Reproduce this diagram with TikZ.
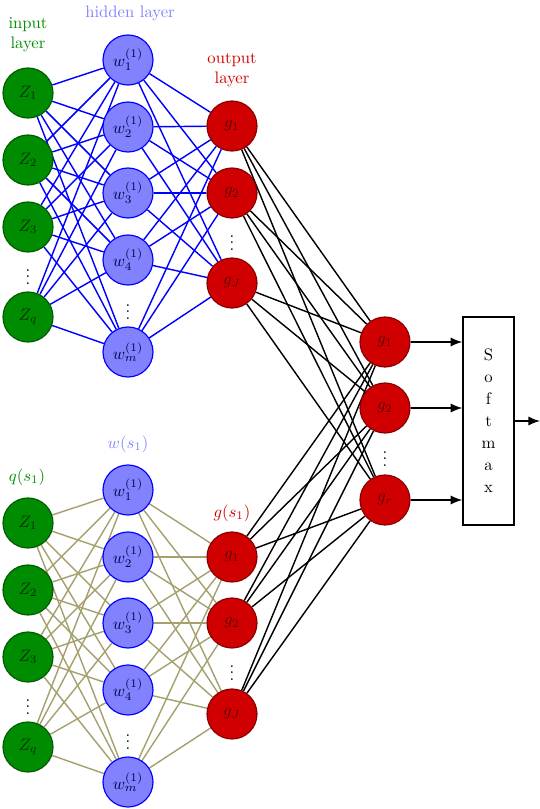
\documentclass[tikz,border=0pt]{standalone}
\usetikzlibrary{arrows.meta, backgrounds}
\definecolor{ingreen}{RGB}{0,140,0}
\definecolor{hidblue}{RGB}{130,130,255}
\definecolor{outred}{RGB}{208,0,0}
\definecolor{olivegray}{RGB}{165,160,110}
\tikzset{
  neuron/.style={circle, minimum size=30pt, inner sep=0pt, line width=0.7pt},
  innode/.style={neuron, fill=ingreen, draw=ingreen!65!black, text=ingreen!35!black},
  hidnode/.style={neuron, fill=hidblue, draw=blue, text=blue!25!black},
  outnode/.style={neuron, fill=outred, draw=outred!65!black, text=outred!45!black},
  vdots/.style={inner sep=0pt},
  blueedge/.style={blue, line width=0.85pt},
  oliveedge/.style={olivegray, line width=0.85pt},
  blackedge/.style={black, line width=0.85pt},
  arrowline/.style={line width=0.85pt, -{Latex[length=7pt,width=5.5pt]}}
}
\begin{document}
\begin{tikzpicture}[x=0.6pt, y=-0.6pt]
  \useasboundingbox (0,0) rectangle (540,809);

  % Top network
  \node[ingreen, align=center] (lblin) at (28,35) {input\\layer};
  \node[hidblue] (lblhid) at (130,13) {hidden layer};
  \node[outred, align=center] (lblout) at (232,70) {output\\layer};
  \foreach \y/\lab [count=\i] in {93/Z_1,160/Z_2,227/Z_3,317/Z_q}
    \node[innode] (zA\i) at (28,\y) {$\lab$};
  \node[vdots] (zAdots) at (28,272) {$\vdots$};
  \foreach \y/\lab [count=\i] in {60/1,127/2,193/3,260/4,352/m}
    \node[hidnode] (wA\i) at (128,\y) {$w_{\lab}^{(1)}$};
  \node[vdots] (wAdots) at (128,307) {$\vdots$};
  \foreach \y/\lab [count=\i] in {126/1,193/2,283/J}
    \node[outnode] (gA\i) at (232,\y) {$g_{\lab}$};
  \node[vdots] (gAdots) at (232,238) {$\vdots$};

  % Bottom network
  \node[ingreen] (lblq) at (27,477) {$q(s_1)$};
  \node[hidblue] (lblw) at (128,444) {$w(s_1)$};
  \node[outred] (lblg) at (232,513) {$g(s_1)$};
  \foreach \y/\lab [count=\i] in {523/Z_1,590/Z_2,657/Z_3,747/Z_q}
    \node[innode] (zB\i) at (28,\y) {$\lab$};
  \node[vdots] (zBdots) at (28,702) {$\vdots$};
  \foreach \y/\lab [count=\i] in {490/1,557/2,623/3,690/4,782/m}
    \node[hidnode] (wB\i) at (128,\y) {$w_{\lab}^{(1)}$};
  \node[vdots] (wBdots) at (128,737) {$\vdots$};
  \foreach \y/\lab [count=\i] in {557/1,623/2,714/J}
    \node[outnode] (gB\i) at (232,\y) {$g_{\lab}$};
  \node[vdots] (gBdots) at (232,668) {$\vdots$};

  % Combined outputs and softmax
  \foreach \y/\lab [count=\i] in {342/1,408/2,500/r}
    \node[outnode] (gC\i) at (385,\y) {$g_{\lab}$};
  \node[vdots] (gCdots) at (385,454) {$\vdots$};
  \node[draw, line width=0.85pt, minimum width=30.6pt, minimum height=124.8pt,
        inner sep=0pt, align=center] (softmax) at (488.5,421)
        {S\\[1.2pt]o\\[1.2pt]f\\[1.2pt]t\\[1.2pt]m\\[1.2pt]a\\[1.2pt]x};
  \coordinate (out) at (540,421);

  % Connections
  \begin{scope}[on background layer]
    \foreach \i in {1,...,4}
      \foreach \j in {1,...,5} {
        \draw[blueedge] (zA\i) -- (wA\j);
        \draw[oliveedge] (zB\i) -- (wB\j);
      }
    \foreach \j in {1,...,5}
      \foreach \k in {1,...,3} {
        \draw[blueedge] (wA\j) -- (gA\k);
        \draw[oliveedge] (wB\j) -- (gB\k);
      }
    \foreach \k in {1,...,3}
      \foreach \l in {1,...,3} {
        \draw[blackedge] (gA\k) -- (gC\l);
        \draw[blackedge] (gB\k) -- (gC\l);
      }
  \end{scope}
  \foreach \l in {1,...,3}
    \draw[arrowline] (gC\l) -- (gC\l -| softmax.west);
  \draw[arrowline] (softmax.east) -- (out);
\end{tikzpicture}
\end{document}
